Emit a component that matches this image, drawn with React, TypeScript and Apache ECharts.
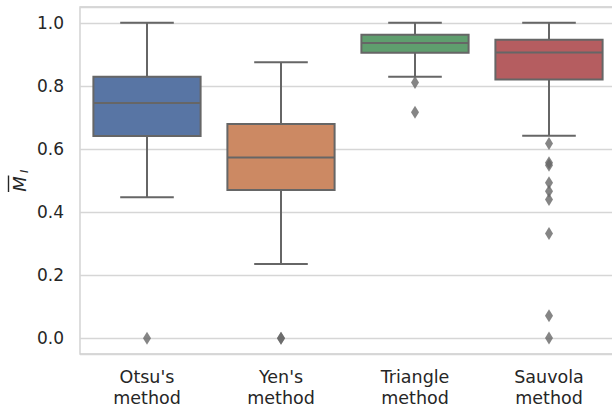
import React, { useEffect, useRef } from "react";
import * as echarts from "echarts";

const categories = ["Otsu's\nmethod", "Yen's\nmethod", "Triangle\nmethod", "Sauvola\nmethod"];
// [lower whisker, Q1, median, Q3, upper whisker]
const boxStats = [
  [0.447, 0.641, 0.746, 0.829, 1.0],
  [0.235, 0.47, 0.573, 0.679, 0.875],
  [0.829, 0.905, 0.936, 0.962, 1.0],
  [0.642, 0.82, 0.906, 0.946, 1.0],
];
const outliers = [
  [0.0],
  [0.0, 0.0],
  [0.811, 0.716],
  [0.617, 0.556, 0.548, 0.493, 0.466, 0.44, 0.332, 0.071, 0.001],
];
const yTicks = [0, 0.2, 0.4, 0.6, 0.8, 1.0];
const boxColors = ["#5875a4", "#cc8963", "#5f9e6e", "#b55d60"];

const LINE = "#666666";
const TEXT = "#262626";
const FONT = "DejaVu Sans";

export default function App() {
  const ref = useRef<HTMLDivElement>(null);
  useEffect(() => {
    if (!ref.current) return;
    const chart = echarts.init(ref.current, null, { renderer: "svg" });
    const boxData = boxStats.map((s, i) => [i, ...s]);
    const outData: number[][] = [];
    outliers.forEach((arr, i) => arr.forEach((v) => outData.push([i, v])));
    chart.setOption({
      animation: false,
      backgroundColor: "#ffffff",
      grid: {
        left: 80,
        right: -4,
        top: 7,
        bottom: 56,
        show: true,
        borderColor: "#cccccc",
        borderWidth: 1.3,
        backgroundColor: "transparent",
        outerBoundsMode: "none",
        containLabel: false,
      },
      xAxis: {
        type: "category",
        data: categories,
        boundaryGap: true,
        axisLine: { show: false },
        axisTick: { show: false },
        splitLine: { show: false },
        axisLabel: {
          color: TEXT,
          fontFamily: FONT,
          fontSize: 17.5,
          lineHeight: 20.5,
          margin: 13,
          interval: 0,
        },
      },
      yAxis: {
        type: "value",
        min: -0.05,
        max: 1.05,
        splitNumber: 5,
        axisLine: { show: false },
        axisTick: { show: false },
        splitLine: { show: true, lineStyle: { color: "#d6d6d6", width: 1.3 } },
        axisLabel: {
          color: TEXT,
          fontFamily: FONT,
          fontSize: 17,
          margin: 16,
          showMinLabel: false,
          showMaxLabel: false,
          formatter: (v: number) =>
            yTicks.some((t) => Math.abs(t - v) < 1e-6) ? v.toFixed(1) : "",
        },
      },
      graphic: [
        {
          type: "group",
          x: 19,
          y: 184,
          rotation: Math.PI / 2,
          children: [
            {
              type: "text",
              x: 0,
              y: 0,
              style: {
                text: "M",
                font: `italic 18px "${FONT}"`,
                fill: TEXT,
                align: "center",
                verticalAlign: "middle",
              },
            },
            {
              type: "text",
              x: 11,
              y: 5,
              style: {
                text: "I",
                font: `italic 11px "${FONT}"`,
                fill: TEXT,
                align: "left",
                verticalAlign: "middle",
              },
            },
            {
              type: "line",
              shape: { x1: -8, y1: -10.5, x2: 8.5, y2: -10.5 },
              style: { stroke: TEXT, lineWidth: 1.4 },
            },
          ],
        },
      ],
      series: [
        {
          type: "custom",
          data: boxData,
          encode: { x: 0, y: [1, 2, 3, 4, 5] },
          z: 2,
          renderItem: (params: any, api: any) => {
            const i = api.value(0);
            const lo = api.coord([i, api.value(1)]);
            const q1 = api.coord([i, api.value(2)]);
            const med = api.coord([i, api.value(3)]);
            const q3 = api.coord([i, api.value(4)]);
            const hi = api.coord([i, api.value(5)]);
            const band = api.size([1, 0])[0];
            const cx = q1[0];
            const bw = band * 0.8;
            const cw = band * 0.4;
            const ls = { stroke: LINE, lineWidth: 2 };
            return {
              type: "group",
              children: [
                { type: "line", shape: { x1: cx, y1: q3[1], x2: cx, y2: hi[1] }, style: ls },
                { type: "line", shape: { x1: cx, y1: q1[1], x2: cx, y2: lo[1] }, style: ls },
                { type: "line", shape: { x1: cx - cw / 2, y1: hi[1], x2: cx + cw / 2, y2: hi[1] }, style: ls },
                { type: "line", shape: { x1: cx - cw / 2, y1: lo[1], x2: cx + cw / 2, y2: lo[1] }, style: ls },
                {
                  type: "rect",
                  shape: { x: cx - bw / 2, y: q3[1], width: bw, height: q1[1] - q3[1] },
                  style: { fill: boxColors[params.dataIndex], stroke: LINE, lineWidth: 2 },
                },
                { type: "line", shape: { x1: cx - bw / 2, y1: med[1], x2: cx + bw / 2, y2: med[1] }, style: ls },
              ],
            };
          },
        },
        {
          type: "scatter",
          data: outData,
          symbol: "diamond",
          symbolSize: [8, 13],
          itemStyle: { color: LINE },
          z: 3,
        },
      ],
    });
    return () => chart.dispose();
  }, []);
  return (
    <div
      ref={ref}
      style={{ position: "fixed", left: 0, top: 0, width: 612, height: 410 }}
    />
  );
}
